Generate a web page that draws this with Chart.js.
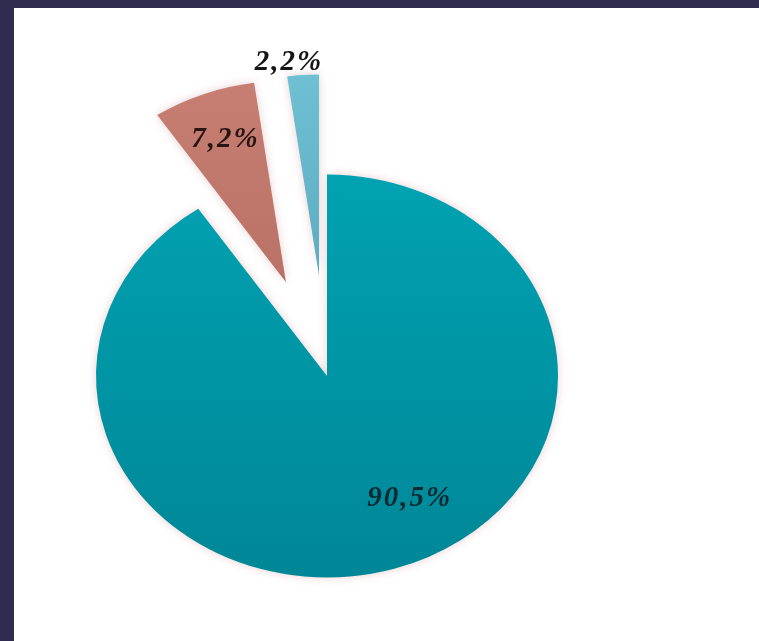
<!DOCTYPE html>
<html>
<head>
<meta charset="utf-8">
<script src="https://cdn.jsdelivr.net/npm/chart.js@4.4.1/dist/chart.umd.min.js"></script>
<style>
    html, body { margin: 0; padding: 0; width: 759px; height: 641px; overflow: hidden; background: #2f2c50; }
    #panel { position: absolute; left: 14px; top: 8px; right: 0; bottom: 0; background: #ffffff; }
    #wrap { position: absolute; left: 0; top: 0; width: 759px; height: 641px; }
</style>
</head>
<body>
<div id="panel"></div>
<div id="wrap"><canvas id="pieChart"></canvas></div>
<script>
// Chart data
const categories = ['A', 'B', 'C'];
const shares = [90.5, 7.2, 2.2];
const shareLabels = ['90,5%', '7,2%', '2,2%'];

// gradient stops per slice (top -> bottom)
const sliceColors = [
    ['#00a9b9', '#008696'],
    ['#cd857a', '#ad6559'],
    ['#78cadb', '#4a98ad']
];
const labelColors = ['#0b2a31', '#2a1512', '#151515'];
// how far each slice is pulled out of the pie (px)
const explode = [0, 115, 115];

const squash = 0.872; // pie is drawn slightly flattened

// Chart.js' own "offset" also grows and narrows the slice,
// so pull the slices out by hand instead
const explodePlugin = {
    id: 'explode',
    afterUpdate(chart) {
        chart.getDatasetMeta(0).data.forEach((arc, i) => {
            if (arc._exploded) return;
            const baseDraw = arc.draw.bind(arc);
            arc.draw = function(c, area) {
                const mid = (this.startAngle + this.endAngle) / 2;
                c.save();
                c.translate(Math.cos(mid) * explode[i], Math.sin(mid) * explode[i]);
                baseDraw(c, area);
                c.restore();
            };
            arc._exploded = true;
        });
    }
};

// flatten the pie vertically around its center
const flattenPlugin = {
    id: 'flatten',
    beforeDatasetsDraw(chart) {
        const arc = chart.getDatasetMeta(0).data[0];
        const ctx = chart.ctx;
        ctx.save();
        ctx.translate(arc.x, arc.y);
        ctx.scale(1, squash);
        ctx.translate(-arc.x, -arc.y);
        ctx.shadowColor = 'rgba(190, 120, 130, 0.35)';
        ctx.shadowBlur = 10;
    },
    afterDatasetsDraw(chart) {
        const ctx = chart.ctx;
        ctx.restore();

        // percentage labels
        const place = [
            { shift: -13, r: 0.70 },
            { shift: 0, r: 0.76 },
            { shift: -3.5, r: 1.07 }
        ];
        const meta = chart.getDatasetMeta(0);
        ctx.save();
        ctx.font = 'italic bold 29px "Liberation Serif", "Times New Roman", serif';
        ctx.letterSpacing = '2px';
        ctx.textAlign = 'center';
        ctx.textBaseline = 'middle';
        meta.data.forEach((arc, i) => {
            const p = arc.getProps(['x', 'y', 'startAngle', 'endAngle', 'outerRadius']);
            const mid = (p.startAngle + p.endAngle) / 2;
            const a = mid + place[i].shift * Math.PI / 180;
            const ux = Math.cos(mid) * explode[i] + Math.cos(a) * p.outerRadius * place[i].r;
            const uy = Math.sin(mid) * explode[i] + Math.sin(a) * p.outerRadius * place[i].r;
            ctx.fillStyle = labelColors[i];
            ctx.fillText(shareLabels[i], p.x + ux + 2, p.y + uy * squash);
        });
        ctx.restore();
    }
};

function sliceGradient(context) {
    const chart = context.chart;
    const area = chart.chartArea;
    if (!area) return sliceColors[context.dataIndex][0];
    const arc = chart.getDatasetMeta(0).data[0];
    const cy = arc && arc.y ? arc.y : (area.top + area.bottom) / 2;
    const g = chart.ctx.createLinearGradient(0, cy - 350, 0, cy + 240);
    g.addColorStop(0, sliceColors[context.dataIndex][0]);
    g.addColorStop(1, sliceColors[context.dataIndex][1]);
    return g;
}

const ctx = document.getElementById('pieChart').getContext('2d');
const pieChart = new Chart(ctx, {
    type: 'pie',
    data: {
        labels: categories,
        datasets: [{
            data: shares,
            backgroundColor: sliceGradient,
            borderWidth: 0,
            radius: 231
        }]
    },
    options: {
        responsive: true,
        maintainAspectRatio: false,
        animation: false,
        layout: { padding: { top: 111, right: 105, left: 0, bottom: 0 } },
        plugins: {
            legend: { display: false },
            tooltip: { enabled: false }
        }
    },
    plugins: [explodePlugin, flattenPlugin]
});
</script>
</body>
</html>
